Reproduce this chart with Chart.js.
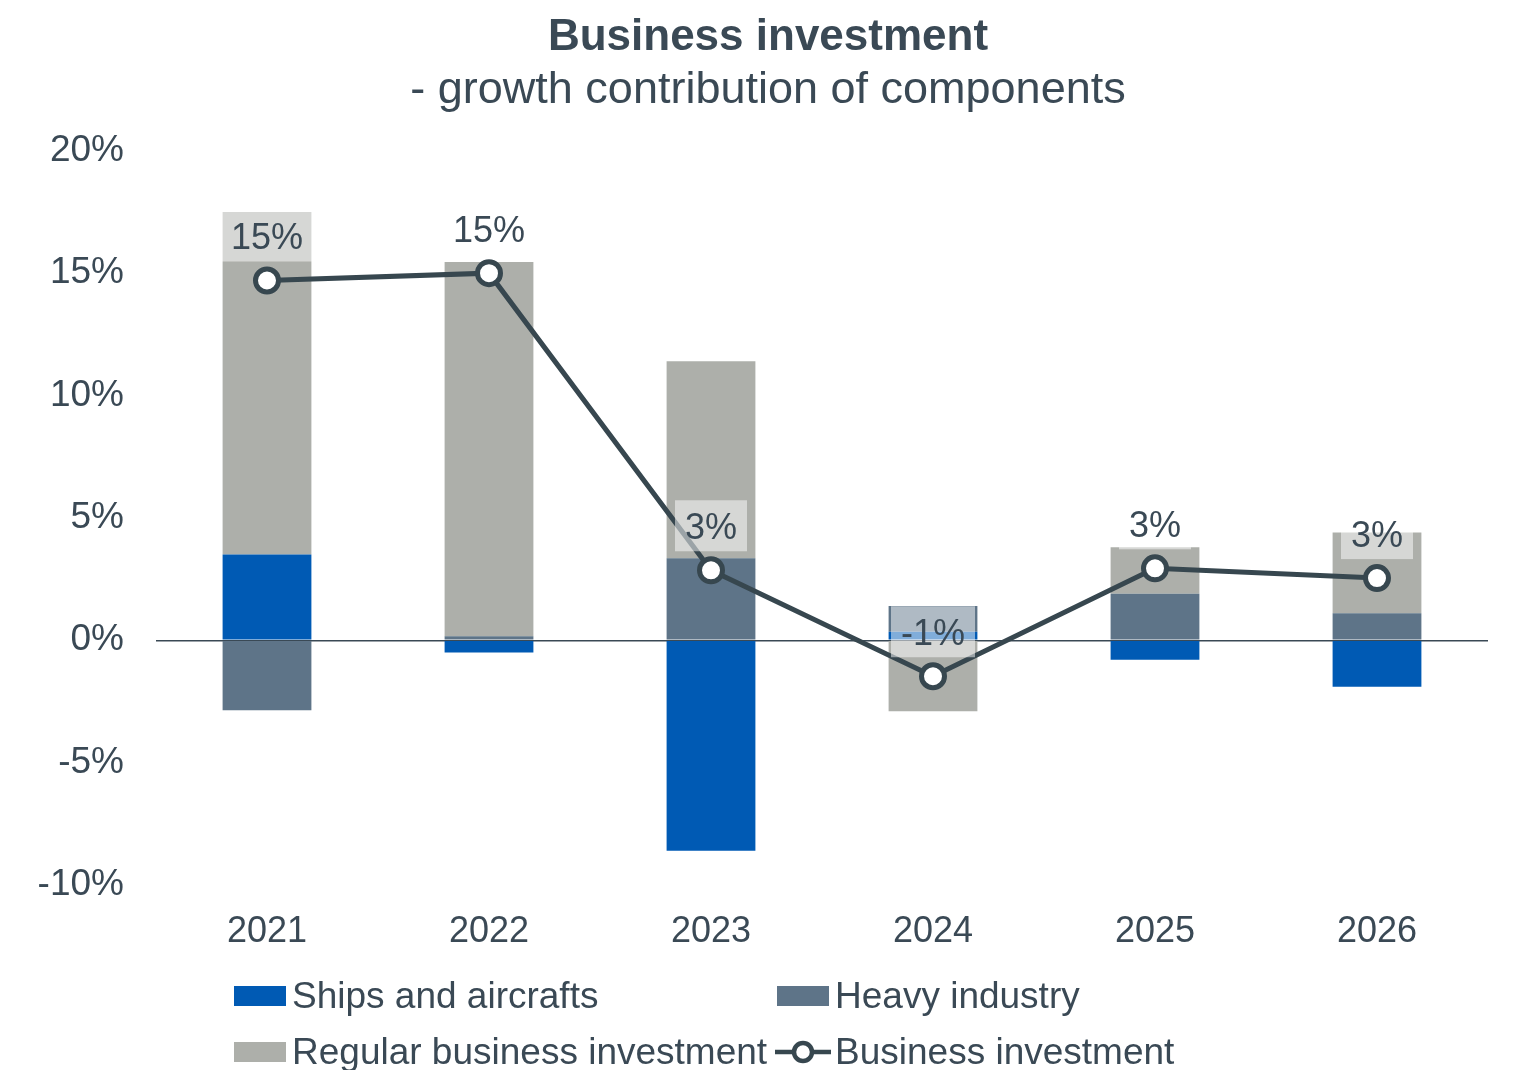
<!DOCTYPE html>
<html>
<head>
<meta charset="utf-8">
<script src="https://cdn.jsdelivr.net/npm/chart.js@4.4.1/dist/chart.umd.min.js"></script>
<style>
  html, body { margin: 0; padding: 0; background: #fff; }
  #wrap { position: relative; width: 1536px; height: 1070px; overflow: hidden; }
  #legend { position: absolute; left: 0; top: 0; width: 1536px; height: 1070px; pointer-events: none;
    font-family: "Liberation Sans", Arial, sans-serif; font-size: 37px; color: #3a4955; }
  .item { position: absolute; height: 44px; line-height: 44px; white-space: nowrap; }
  .sw { position: absolute; left: 0; top: 12px; width: 52px; height: 20px; }
  .lbl { position: absolute; left: 58px; top: 0; }
</style>
</head>
<body>
<div id="wrap">
  <canvas id="chart" width="1536" height="1070"></canvas>
  <div id="legend"></div>
</div>
<script>
'use strict';

const years = ['2021', '2022', '2023', '2024', '2025', '2026'];
const ships = [3.5, -0.5, -8.6, 0.35, -0.8, -1.9];
const heavy = [-2.86, 0.16, 3.35, 1.05, 1.9, 1.1];
const regular = [14.0, 15.3, 8.05, -2.9, 1.9, 3.3];
const total = [14.7, 15.0, 2.86, -1.47, 2.94, 2.54];
const yTicks = [20, 15, 10, 5, 0, -5, -10];

const textColor = '#3a4955';
const lineColor = '#37474f';
const font = 'Liberation Sans, Arial, sans-serif';

// labels with light box above each point of the line
const pointLabels = {
  id: 'pointLabels',
  afterDatasetsDraw(chart) {
    const ctx = chart.ctx;
    const meta = chart.getDatasetMeta(3);
    ctx.save();
    ctx.font = '36px ' + font;
    ctx.textAlign = 'center';
    ctx.textBaseline = 'middle';
    meta.data.forEach((pt, i) => {
      const txt = Math.round(total[i]) + '%';
      const w = ctx.measureText(txt).width + 20;
      const h = 51;
      const bottom = pt.y - 19;
      ctx.fillStyle = 'rgba(255,255,255,0.5)';
      ctx.fillRect(pt.x - w / 2, bottom - h, w, h);
      ctx.fillStyle = textColor;
      ctx.fillText(txt, pt.x, bottom - h / 2 + 3);
    });
    ctx.restore();
  }
};

const config = {
  data: {
    labels: years,
    datasets: [
      { type: 'bar', label: 'Ships and aircrafts', data: ships, backgroundColor: '#005ab4', stack: 'parts', order: 1 },
      { type: 'bar', label: 'Heavy industry', data: heavy, backgroundColor: '#5e7488', stack: 'parts', order: 1 },
      { type: 'bar', label: 'Regular business investment', data: regular, backgroundColor: '#adafaa', stack: 'parts', order: 1 },
      {
        type: 'line', label: 'Business investment', data: total, stack: 'line', order: 0,
        borderColor: lineColor, borderWidth: 5, pointRadius: 11.5, pointBorderWidth: 5,
        pointBackgroundColor: '#fff', pointBorderColor: lineColor, tension: 0
      }
    ]
  },
  options: {
    responsive: false,
    animation: false,
    layout: { padding: { left: 30, right: 30, top: 0, bottom: 110 } },
    datasets: { bar: { barPercentage: 0.4, categoryPercentage: 1 } },
    plugins: {
      legend: { display: false },
      tooltip: { enabled: false },
      title: {
        display: true, text: 'Business investment', color: textColor,
        font: { family: font, size: 44, weight: 'bold' }, padding: { top: 11, bottom: 0 }
      },
      subtitle: {
        display: true, text: '- growth contribution of components', color: textColor,
        font: { family: font, size: 45 }, padding: { top: 0, bottom: 33 }
      }
    },
    scales: {
      x: {
        stacked: true,
        grid: { display: false },
        border: { display: false },
        ticks: { color: textColor, font: { family: font, size: 36 }, padding: 17 },
        afterFit(scale) { scale.height = 75; }
      },
      y: {
        stacked: true,
        min: -10, max: 20,
        border: { display: false },
        grid: {
          drawTicks: false,
          color: (c) => c.tick && c.tick.value === 0 ? '#3a4955' : 'rgba(0,0,0,0)',
          lineWidth: 1.5
        },
        afterBuildTicks(scale) { scale.ticks = yTicks.map(v => ({ value: v })); },
        ticks: {
          color: textColor, font: { family: font, size: 37 }, padding: 32,
          callback: (v) => v + '%'
        },
        afterFit(scale) { scale.width = 126; }
      },
      // empty right-hand spacer so the plot ends where the reference does
      yRight: {
        position: 'right',
        min: -10, max: 20,
        grid: { display: false },
        border: { display: false },
        ticks: { display: false },
        afterFit(scale) { scale.width = 18; }
      }
    }
  },
  plugins: [pointLabels]
};

new Chart(document.getElementById('chart'), config);

// legend laid out as a two-column grid
const legendItems = [
  { text: 'Ships and aircrafts', color: '#005ab4', x: 234, y: 974 },
  { text: 'Heavy industry', color: '#5e7488', x: 777, y: 974 },
  { text: 'Regular business investment', color: '#adafaa', x: 234, y: 1030 },
  { text: 'Business investment', line: true, x: 777, y: 1030 }
];
const legend = document.getElementById('legend');
legendItems.forEach(it => {
  const d = document.createElement('div');
  d.className = 'item';
  d.style.left = it.x + 'px';
  d.style.top = it.y + 'px';
  if (it.line) {
    d.innerHTML = '<svg class="sw" style="top:8px;left:-2px;width:56px;height:28px" viewBox="0 0 56 28">' +
      '<line x1="0" y1="14" x2="56" y2="14" stroke="' + lineColor + '" stroke-width="4.5"/>' +
      '<circle cx="28" cy="14" r="9" fill="#fff" stroke="' + lineColor + '" stroke-width="4.5"/></svg>' +
      '<span class="lbl">' + it.text + '</span>';
  } else {
    d.innerHTML = '<span class="sw" style="background:' + it.color + '"></span><span class="lbl">' + it.text + '</span>';
  }
  legend.appendChild(d);
});
</script>
</body>
</html>
